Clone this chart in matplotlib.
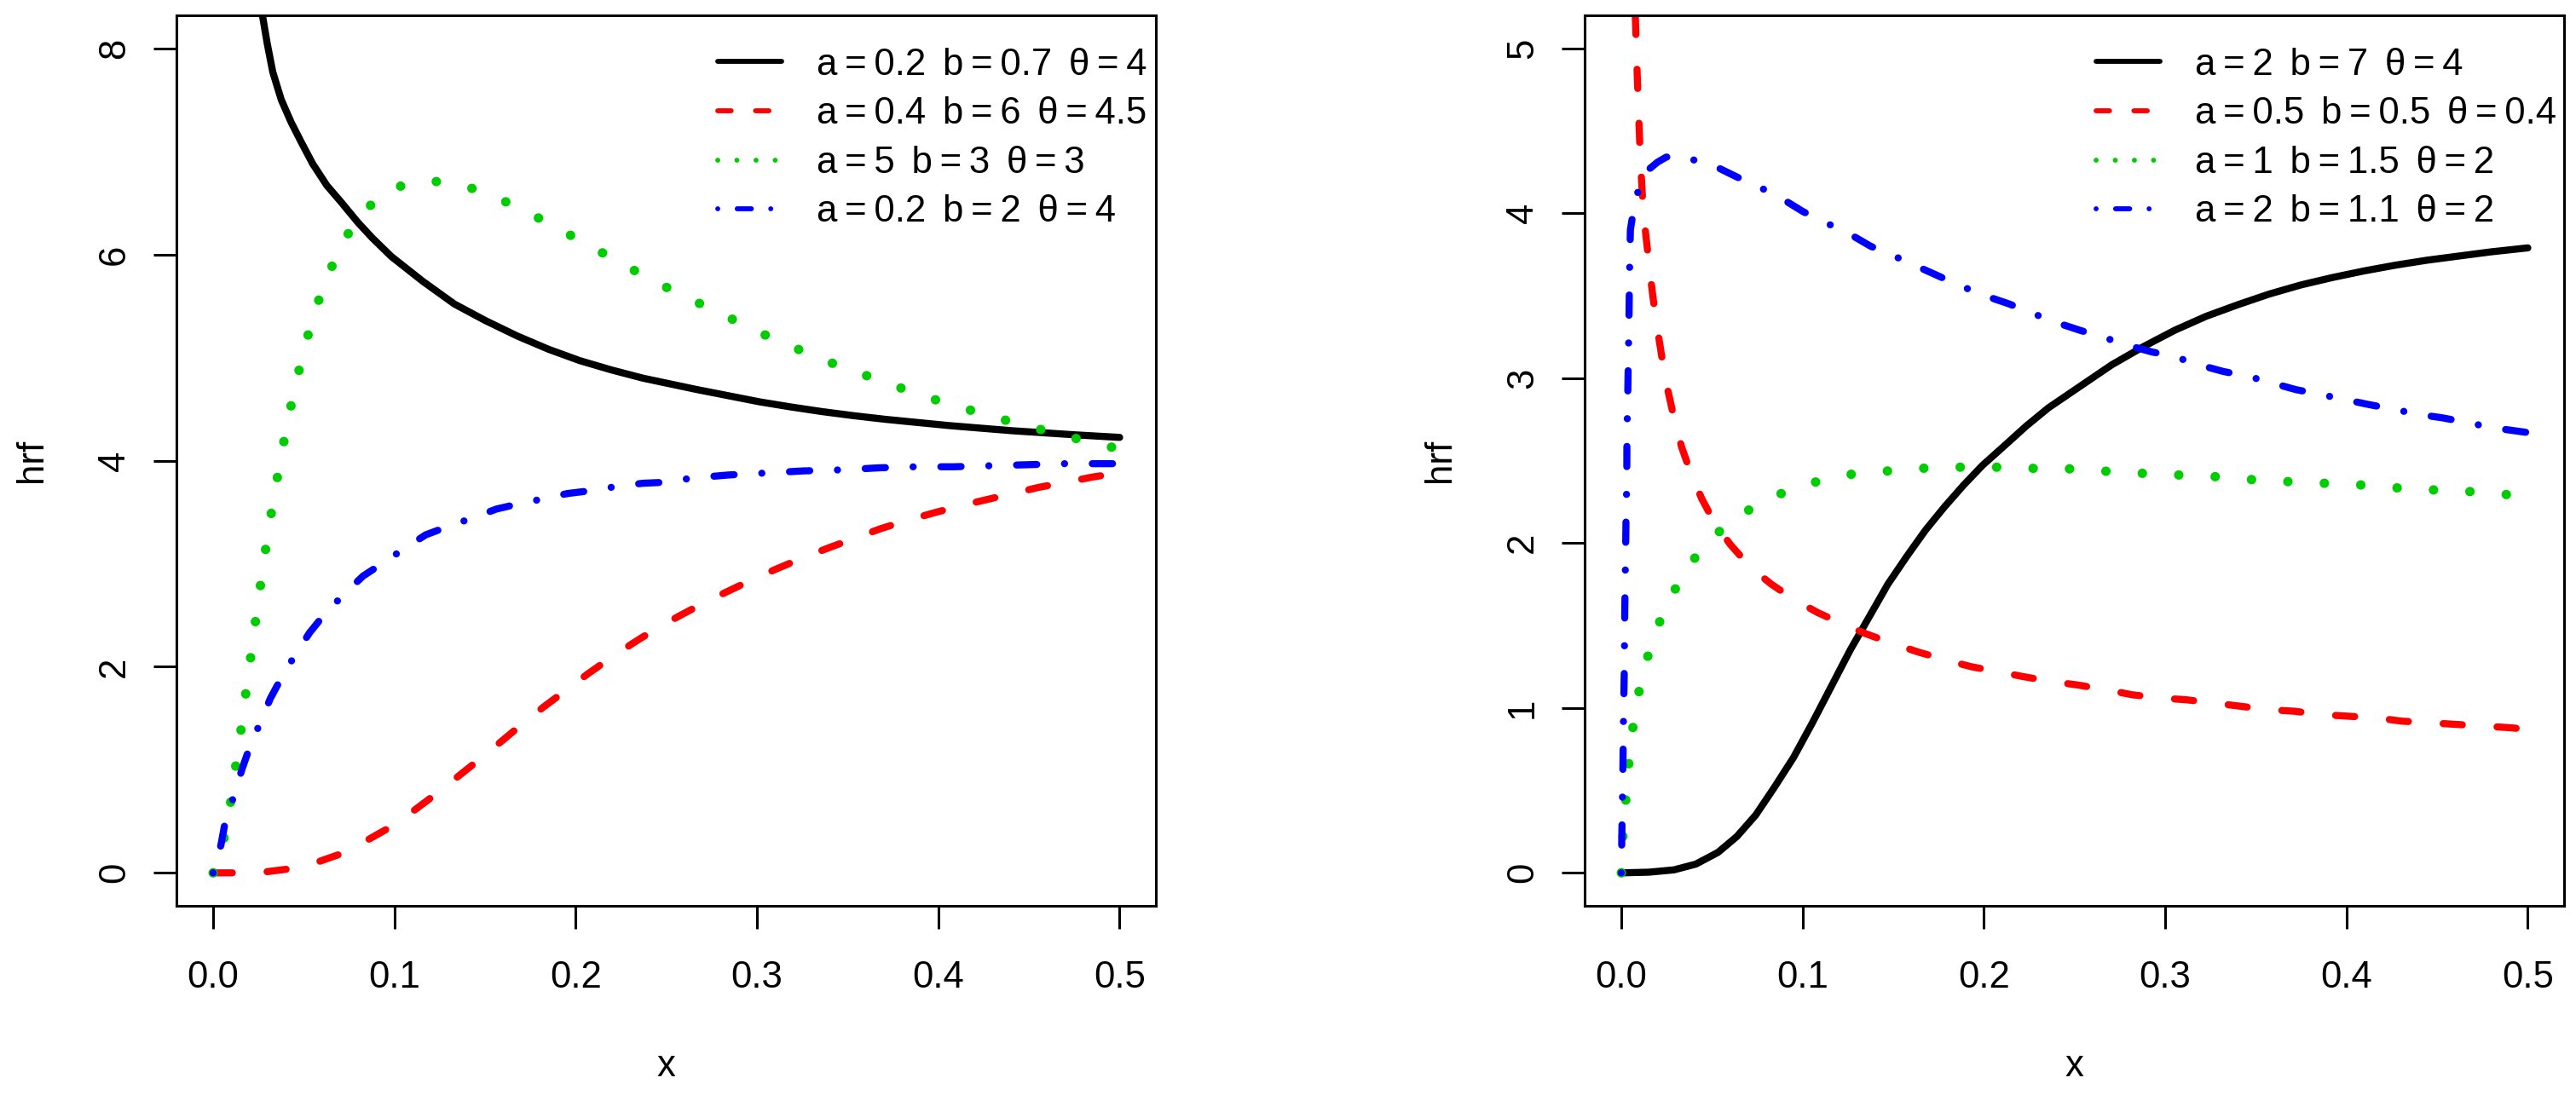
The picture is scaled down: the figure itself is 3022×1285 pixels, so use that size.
import numpy as np
import matplotlib
matplotlib.use('Agg')
import matplotlib.pyplot as plt
from matplotlib.lines import Line2D

plt.rcParams['font.family'] = ['Liberation Sans', 'DejaVu Sans']
fs = 31.5

# ---- left panel: values ----
L_black_x = [0.0269, 0.0274, 0.0298, 0.0329, 0.0376, 0.0431, 0.0486, 0.0549, 0.0627, 0.0705,
             0.0799, 0.0878, 0.0983, 0.1156, 0.133, 0.150, 0.1676, 0.185, 0.2022, 0.2196,
             0.237, 0.2666, 0.284, 0.3014, 0.3188, 0.336, 0.3536, 0.371, 0.3883, 0.4057,
             0.423, 0.4405, 0.458, 0.4753, 0.5]
L_black_y = [8.36, 8.30, 8.05, 7.77, 7.50, 7.28, 7.09, 6.88, 6.67, 6.51,
             6.31, 6.16, 5.98, 5.74, 5.52, 5.36, 5.21, 5.08, 4.97, 4.88,
             4.80, 4.69, 4.63, 4.57, 4.52, 4.475, 4.435, 4.40, 4.37, 4.34,
             4.315, 4.29, 4.27, 4.25, 4.225]

L_red_x = [0, 0.0133, 0.029, 0.0428, 0.0584, 0.0714, 0.0853, 0.0983, 0.1104, 0.1225,
           0.1347, 0.1468, 0.1586, 0.1702, 0.1823, 0.1945, 0.2066, 0.2196, 0.2317, 0.2444,
           0.2579, 0.2718, 0.2849, 0.2979, 0.3122, 0.3257, 0.3405, 0.3544, 0.3683, 0.3828,
           0.397, 0.4118, 0.4263, 0.441, 0.4553, 0.4704, 0.4849, 0.4997]
L_red_y = [0, 0, 0.01, 0.04, 0.11, 0.19, 0.32, 0.45, 0.60, 0.76,
           0.93, 1.10, 1.27, 1.44, 1.61, 1.77, 1.93, 2.09, 2.23, 2.37,
           2.50, 2.63, 2.74, 2.85, 2.96, 3.06, 3.16, 3.25, 3.34, 3.42,
           3.49, 3.56, 3.62, 3.68, 3.74, 3.79, 3.84, 3.88]

L_green_x = [0, 0.0064, 0.0099, 0.0128, 0.0158, 0.0185, 0.0213, 0.0241, 0.027, 0.030,
             0.0334, 0.0369, 0.0409, 0.0452, 0.0501, 0.0556, 0.0627, 0.0711, 0.0823, 0.0979,
             0.117, 0.1366, 0.1555, 0.1735, 0.1915, 0.2092, 0.2265, 0.2444, 0.2628, 0.2809,
             0.2991, 0.3174, 0.336, 0.3548, 0.3737, 0.3927, 0.4118, 0.431, 0.4504, 0.4697,
             0.4892, 0.5]
L_green_y = [0, 0.36, 0.71, 1.08, 1.44, 1.81, 2.17, 2.54, 2.90, 3.27,
             3.63, 3.99, 4.36, 4.72, 5.07, 5.43, 5.77, 6.11, 6.41, 6.64,
             6.72, 6.68, 6.56, 6.41, 6.24, 6.07, 5.90, 5.73, 5.57, 5.42,
             5.26, 5.12, 4.98, 4.86, 4.74, 4.62, 4.52, 4.42, 4.33, 4.24,
             4.16, 4.11]

L_blue_x = [0, 0.0043, 0.0064, 0.0113, 0.016, 0.0194, 0.026, 0.0315, 0.0376, 0.0454,
            0.0532, 0.061, 0.0714, 0.0827, 0.0931, 0.1049, 0.1173, 0.1295, 0.1425, 0.1563,
            0.1685, 0.1823, 0.1953, 0.2092, 0.2227, 0.237, 0.2497, 0.264, 0.284, 0.3052,
            0.3257, 0.3463, 0.3675, 0.3875, 0.4083, 0.4283, 0.4492, 0.4697, 0.4979]
L_blue_y = [0, 0.27, 0.47, 0.74, 1.01, 1.18, 1.46, 1.69, 1.89, 2.12,
            2.33, 2.50, 2.69, 2.88, 3.00, 3.14, 3.28, 3.36, 3.44, 3.53,
            3.58, 3.63, 3.68, 3.71, 3.75, 3.78, 3.79, 3.83, 3.86, 3.88,
            3.90, 3.91, 3.93, 3.94, 3.94, 3.95, 3.96, 3.97, 3.97]

# narrow spaces (U+2009, U+2005) to match the tighter plotmath spacing
S1 = '\u2009'
S2 = '\u2005\u2009'


def lab(a, b, t):
    return ('a' + S1 + '=' + S1 + a + S2 + 'b' + S1 + '=' + S1 + b + S2
            + '\u03b8' + S1 + '=' + S1 + t)


L_labels = [lab('0.2', '0.7', '4'), lab('0.4', '6', '4.5'),
            lab('5', '3', '3'), lab('0.2', '2', '4')]

# ---- right panel ----
R_black_x = [0, 0.0151, 0.029, 0.0411, 0.0533, 0.0637, 0.0741, 0.0845, 0.095, 0.1054,
             0.1158, 0.1262, 0.1366, 0.147, 0.1575, 0.1679, 0.1783, 0.1887, 0.1991, 0.2113,
             0.2234, 0.2356, 0.253, 0.2704, 0.2878, 0.3052, 0.3226, 0.34, 0.3574, 0.3748,
             0.3922, 0.4096, 0.427, 0.4443, 0.4617, 0.4791, 0.5]
R_black_y = [0, 0.004, 0.018, 0.053, 0.124, 0.22, 0.35, 0.52, 0.70, 0.91,
             1.13, 1.35, 1.55, 1.75, 1.92, 2.08, 2.22, 2.35, 2.47, 2.59,
             2.71, 2.82, 2.95, 3.08, 3.19, 3.29, 3.375, 3.445, 3.51, 3.565,
             3.61, 3.65, 3.685, 3.715, 3.74, 3.765, 3.79]

R_red_x = [0.0077, 0.0087, 0.0094, 0.0104, 0.0116, 0.0127, 0.0142, 0.016, 0.0177, 0.02,
           0.0229, 0.0252, 0.029, 0.0333, 0.0385, 0.0443, 0.0516, 0.0602, 0.0715, 0.0828,
           0.095, 0.108, 0.1219, 0.1349, 0.1497, 0.1635, 0.1792, 0.193, 0.2078, 0.2217,
           0.2373, 0.2512, 0.2678, 0.2817, 0.2974, 0.3113, 0.327, 0.3417, 0.3565, 0.3713,
           0.3861, 0.4009, 0.4165, 0.4304, 0.4461, 0.4609, 0.4757, 0.4904, 0.5]
R_red_y = [5.20, 4.86, 4.65, 4.35, 4.11, 3.95, 3.80, 3.62, 3.47, 3.29,
           3.09, 2.95, 2.76, 2.58, 2.42, 2.27, 2.12, 1.99, 1.85, 1.75,
           1.66, 1.58, 1.51, 1.45, 1.39, 1.34, 1.29, 1.25, 1.22, 1.19,
           1.16, 1.14, 1.11, 1.08, 1.06, 1.05, 1.03, 1.01, 0.99, 0.98,
           0.96, 0.95, 0.94, 0.92, 0.91, 0.90, 0.89, 0.88, 0.87]

R_green_x = [0, 0.0009, 0.0026, 0.0043, 0.0068, 0.0104, 0.016, 0.0231, 0.0325, 0.0443,
             0.059, 0.0759, 0.0943, 0.1135, 0.1332, 0.1531, 0.1731, 0.1931, 0.213, 0.2328,
             0.2523, 0.273, 0.293, 0.313, 0.3327, 0.3525, 0.3727, 0.3927, 0.4127, 0.4325,
             0.4523, 0.4723, 0.4923, 0.5]
R_green_y = [0, 0.23, 0.46, 0.69, 0.92, 1.14, 1.37, 1.58, 1.78, 1.97,
             2.12, 2.24, 2.33, 2.39, 2.43, 2.44, 2.46, 2.46, 2.46, 2.45,
             2.45, 2.43, 2.42, 2.41, 2.40, 2.38, 2.37, 2.36, 2.35, 2.33,
             2.32, 2.31, 2.29, 2.29]

R_blue_x = [0, 0.0003, 0.0009, 0.0012, 0.0016, 0.0019, 0.0023, 0.0026, 0.003, 0.0031,
            0.0035, 0.0038, 0.0042, 0.0045, 0.0050, 0.0078, 0.0134, 0.0200, 0.0247, 0.0307,
            0.0377, 0.0507, 0.0637, 0.0759, 0.0884, 0.1002, 0.1132, 0.125, 0.1375, 0.1505,
            0.1627, 0.1748, 0.187, 0.2005, 0.2139, 0.2252, 0.2391, 0.253, 0.2652, 0.2791,
            0.2922, 0.3052, 0.3188, 0.3322, 0.3461, 0.3591, 0.3722, 0.3861, 0.3991, 0.4122,
            0.4266, 0.4397, 0.4525, 0.467, 0.48, 0.5]
R_blue_y = [0, 0.24, 0.66, 0.95, 1.20, 1.59, 1.91, 2.16, 2.37, 2.66,
            2.87, 3.08, 3.33, 3.62, 3.90, 4.09, 4.25, 4.31, 4.34, 4.35,
            4.33, 4.29, 4.22, 4.16, 4.09, 4.01, 3.94, 3.88, 3.80, 3.74,
            3.68, 3.62, 3.56, 3.50, 3.45, 3.40, 3.34, 3.29, 3.25, 3.20,
            3.16, 3.13, 3.08, 3.04, 3.01, 2.97, 2.93, 2.90, 2.87, 2.84,
            2.81, 2.78, 2.76, 2.73, 2.70, 2.67]

R_labels = [lab('2', '7', '4'), lab('0.5', '0.5', '0.4'),
            lab('1', '1.5', '2'), lab('2', '1.1', '2')]

xticks = [0.0, 0.1, 0.2, 0.3, 0.4, 0.5]
xtick_labels = ['0.0', '0.1', '0.2', '0.3', '0.4', '0.5']

colors = ['black', '#FF0000', '#00CD00', '#0000FF']
styles = ['-', (0, (2.7, 4.9)), (0, (0.01, 3.84)), (0, (0.01, 3.9, 2.85, 3.9))]
widths = [6.0, 6.0, 8.0, 6.0]
leg_lw = 4.2


def draw(ax, series, labels, ylim, yticks, leg_x):
    for (x, y), c, s, w in zip(series, colors, styles, widths):
        ax.plot(x, y, color=c, ls=s, lw=w, dash_capstyle='round',
                solid_capstyle='round', dash_joinstyle='round', solid_joinstyle='round')
    ax.set_xlim(-0.02, 0.52)
    ax.set_ylim(*ylim)
    ax.set_xticks(xticks)
    ax.set_xticklabels(xtick_labels, fontsize=fs)
    ax.set_yticks(yticks)
    ax.set_yticklabels([str(t) for t in yticks], fontsize=fs, rotation=90, va='center')
    ax.tick_params(axis='both', direction='out', length=19.4, width=2.2)
    ax.tick_params(axis='x', pad=26.5)
    ax.tick_params(axis='y', pad=18.5)
    for sp in ax.spines.values():
        sp.set_linewidth(2.2)
    ax.set_xlabel('x', fontsize=fs)
    ax.xaxis.set_label_coords(0.5, -0.18)
    ax.xaxis.label.set_va('center')
    ax.set_ylabel('hrf', fontsize=fs)
    ax.yaxis.set_label_coords(-0.1476, 0.5)
    ax.yaxis.label.set_va('center')
    ax.yaxis.label.set_ha('center')
    handles = [Line2D([], [], color=c, ls=s, lw=leg_lw, dash_capstyle='round',
                      solid_capstyle='round') for c, s in zip(colors, styles)]
    ax.legend(handles, labels, loc='upper left', bbox_to_anchor=(leg_x, 0.964),
              frameon=False, fontsize=fs, handlelength=1.705, handletextpad=0.94,
              labelspacing=0.38, borderpad=0, borderaxespad=0)


fig = plt.figure(figsize=(30.22, 12.85), dpi=100)
ax1 = fig.add_axes([0.06866, 0.17276, 0.38005, 0.81323])
ax2 = fig.add_axes([0.61532, 0.17276, 0.38005, 0.81323])

draw(ax1, [(L_black_x, L_black_y), (L_red_x, L_red_y), (L_green_x, L_green_y),
           (L_blue_x, L_blue_y)], L_labels, (-0.32, 8.32), [0, 2, 4, 6, 8], 0.5525)
draw(ax2, [(R_black_x, R_black_y), (R_red_x, R_red_y), (R_green_x, R_green_y),
           (R_blue_x, R_blue_y)], R_labels, (-0.2, 5.2), [0, 1, 2, 3, 4, 5], 0.5222)

fig.savefig('out.png', dpi=100)
